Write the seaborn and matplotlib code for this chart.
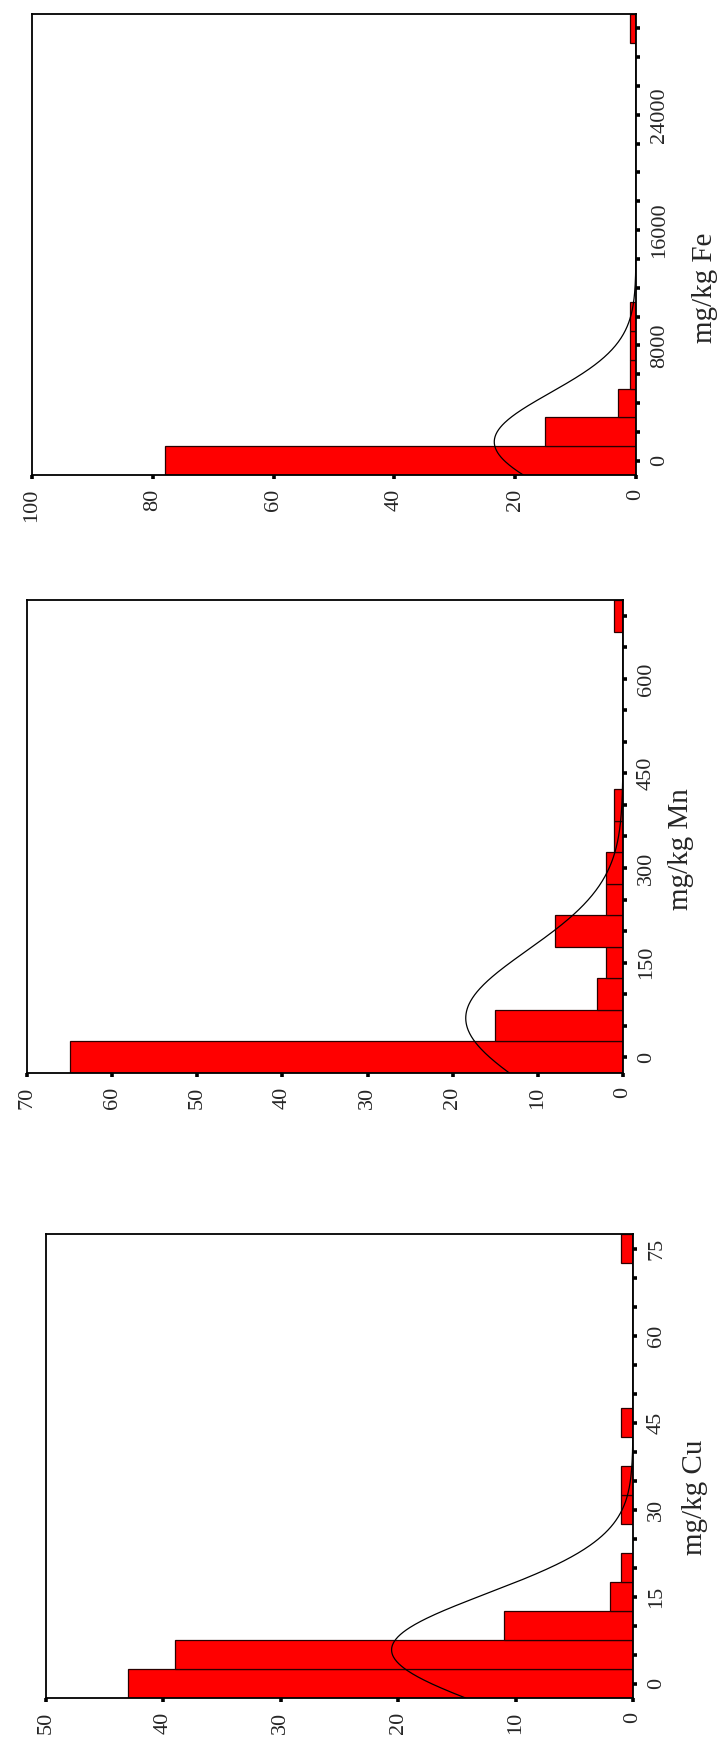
import numpy as np
import pandas as pd
import matplotlib
matplotlib.use("Agg")
import matplotlib.pyplot as plt
import seaborn as sns

# ---------------- data (percent of samples per class) ----------------
cu_bin_centers = [0, 5, 10, 15, 20, 25, 30, 35, 40, 45, 50, 55, 60, 65, 70, 75]
cu_percent = [43, 39, 11, 2, 1, 0, 1, 1, 0, 1, 0, 0, 0, 0, 0, 1]
cu_ticks = [0, 15, 30, 45, 60, 75]
cu_tick_labels = ["0", "15", "30", "45", "60", "75"]
cu_count_ticks = [0, 10, 20, 30, 40, 50]
cu_count_labels = ["0", "10", "20", "30", "40", "50"]
cu_fit_mean, cu_fit_sd = 5.8, 9.7

mn_bin_centers = [0, 50, 100, 150, 200, 250, 300, 350, 400, 450, 500, 550, 600, 650, 700]
mn_percent = [65, 15, 3, 2, 8, 2, 2, 1, 1, 0, 0, 0, 0, 0, 1]
mn_ticks = [0, 150, 300, 450, 600]
mn_tick_labels = ["0", "150", "300", "450", "600"]
mn_count_ticks = [0, 10, 20, 30, 40, 50, 60, 70]
mn_count_labels = ["0", "10", "20", "30", "40", "50", "60", "70"]
mn_fit_mean, mn_fit_sd = 62, 108

fe_bin_centers = [0, 2000, 4000, 6000, 8000, 10000, 12000, 14000, 16000,
                  18000, 20000, 22000, 24000, 26000, 28000, 30000]
fe_percent = [78, 15, 3, 1, 1, 1, 0, 0, 0, 0, 0, 0, 0, 0, 0, 1]
fe_ticks = [0, 8000, 16000, 24000]
fe_tick_labels = ["0", "8000", "16000", "24000"]
fe_count_ticks = [0, 20, 40, 60, 80, 100]
fe_count_labels = ["0", "20", "40", "60", "80", "100"]
fe_fit_mean, fe_fit_sd = 1300, 3400

# ---------------- style ----------------
sns.set_theme(style="white")
plt.rcParams["font.family"] = ["Liberation Serif", "DejaVu Serif"]

W, H = 721, 1742
fig = plt.figure(figsize=(W / 100, H / 100), dpi=100)
fig.patch.set_facecolor("white")


def rect(left, right, top, bottom):
    return [left / W, 1 - bottom / H, (right - left) / W, (bottom - top) / H]


panels = [
    dict(centers=cu_bin_centers, values=cu_percent, width=5, minor=5,
         ticks=cu_ticks, tlabels=cu_tick_labels,
         cticks=cu_count_ticks, clabels=cu_count_labels,
         mean=cu_fit_mean, sd=cu_fit_sd, title="mg/kg Cu",
         rect=rect(46, 633, 1234, 1698), title_xy=(695, 1497)),
    dict(centers=mn_bin_centers, values=mn_percent, width=50, minor=50,
         ticks=mn_ticks, tlabels=mn_tick_labels,
         cticks=mn_count_ticks, clabels=mn_count_labels,
         mean=mn_fit_mean, sd=mn_fit_sd, title="mg/kg Mn",
         rect=rect(27, 623, 600, 1073), title_xy=(681, 849)),
    dict(centers=fe_bin_centers, values=fe_percent, width=2000, minor=2000,
         ticks=fe_ticks, tlabels=fe_tick_labels,
         cticks=fe_count_ticks, clabels=fe_count_labels,
         mean=fe_fit_mean, sd=fe_fit_sd, title="mg/kg Fe",
         rect=rect(32, 636, 14, 475), title_xy=(705, 288)),
]

for p in panels:
    ax = fig.add_axes(p["rect"])
    w = p["width"]
    centers = np.asarray(p["centers"], dtype=float)
    counts = np.asarray(p["values"], dtype=int)
    lo = centers[0] - w / 2
    hi = centers[-1] + w / 2
    edges = np.arange(lo, hi + w / 2, w)
    # one observation per percent point, placed at its class centre
    df = pd.DataFrame({"value": np.repeat(centers, counts)})

    sns.histplot(data=df, y="value", bins=edges, ax=ax,
                 color="#ff0000", edgecolor="#2a0000", linewidth=0.9,
                 alpha=1.0, stat="count")

    # fitted normal curve (scaled to counts per class)
    n = float(counts.sum())
    yy = np.linspace(lo, hi, 600)
    dens = n * w / (p["sd"] * np.sqrt(2 * np.pi)) * np.exp(-0.5 * ((yy - p["mean"]) / p["sd"]) ** 2)
    ax.plot(dens, yy, color="black", lw=0.9)

    ax.set_xlim(p["cticks"][-1], 0)
    ax.set_ylim(lo, hi)
    ax.set_xlabel("")
    ax.set_ylabel("")

    ax.set_xticks(p["cticks"])
    ax.set_xticklabels(p["clabels"])
    ax.yaxis.tick_right()
    ax.set_yticks(p["ticks"])
    ax.set_yticklabels(p["tlabels"])
    ax.set_yticks(np.arange(0, centers[-1] + 1, p["minor"]), minor=True)

    ax.tick_params(axis="x", which="both", direction="out", length=2.6, width=2.6,
                   color="black", bottom=True, top=False, labelsize=16,
                   labelrotation=90, pad=7.5)
    ax.tick_params(axis="y", which="both", direction="out", length=2.6, width=2.6,
                   color="black", right=True, left=False, labelright=True,
                   labelleft=False, labelsize=16, labelrotation=90, pad=7.5)
    for t in ax.get_yticklabels():
        t.set_va("center")
        t.set_ha("left")

    for s in ax.spines.values():
        s.set_visible(True)
        s.set_color("black")
        s.set_linewidth(1.3)
    ax.set_facecolor("white")

    tx, ty = p["title_xy"]
    fig.text(tx / W, 1 - ty / H, p["title"], rotation=90, ha="center",
             va="center", fontsize=21)

fig.savefig("out.png", dpi=100, facecolor="white")
